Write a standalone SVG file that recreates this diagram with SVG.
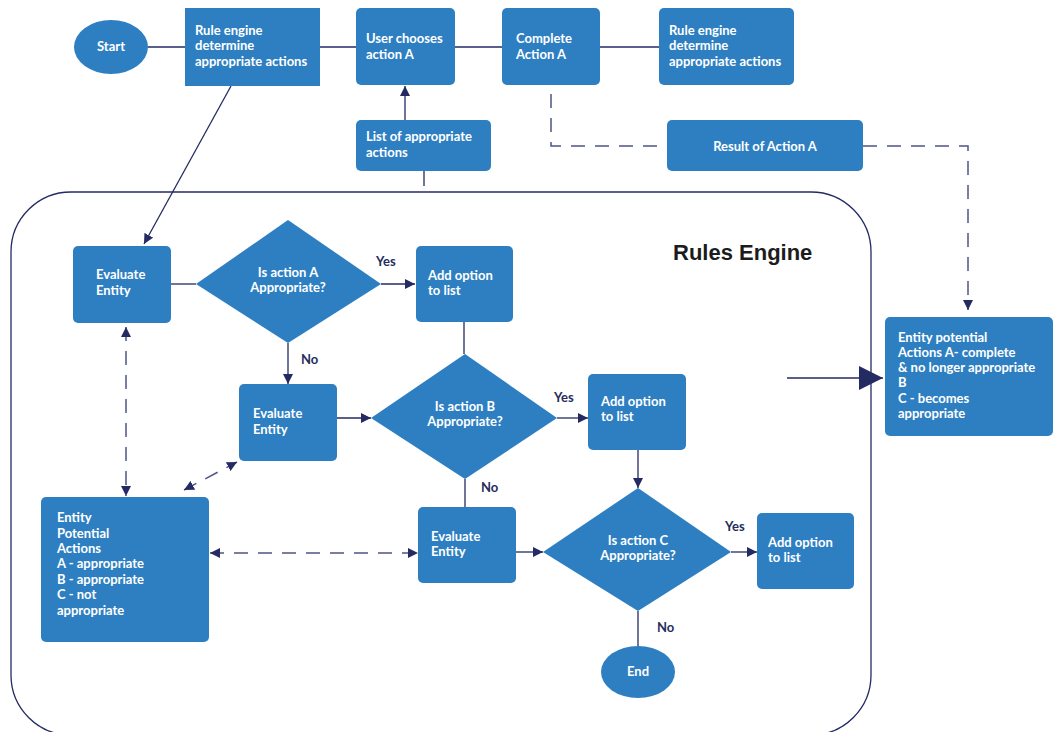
<svg xmlns="http://www.w3.org/2000/svg" width="1058" height="732" viewBox="0 0 1058 732">
<defs>
<style>
.box{fill:#2e7fc2;}
.t{font-family:"Lato","Noto Sans",sans-serif;font-weight:700;font-size:13px;fill:#ffffff;}
.tc{text-anchor:middle;}
.lbl{font-family:"Lato","Noto Sans",sans-serif;font-weight:700;font-size:13px;fill:#262d5e;}
.ln{stroke:#232b62;stroke-width:1.3;fill:none;}
.dash{stroke:#4c5584;stroke-width:1.5;fill:none;stroke-dasharray:14 10;}
.title{font-family:"Liberation Sans",Arial,sans-serif;font-weight:700;font-size:22px;fill:#1c1c1c;}
</style>
<marker id="ah" viewBox="0 0 10 10" markerWidth="10" markerHeight="10" refX="10" refY="5" orient="auto-start-reverse" markerUnits="userSpaceOnUse">
<path d="M0,0 L10,5 L0,10 z" fill="#232b62"/>
</marker>
<marker id="big" viewBox="0 0 10 10" markerWidth="24" markerHeight="24" refX="10" refY="5" orient="auto" markerUnits="userSpaceOnUse">
<path d="M0,0 L10,5 L0,10 z" fill="#232b62"/>
</marker>
</defs>
<rect width="1058" height="732" fill="#ffffff"/>

<g id="container">
<rect x="11" y="192" width="860" height="543" rx="60" ry="60" fill="none" stroke="#232b62" stroke-width="1.3"/>
<text class="title" x="673" y="260">Rules Engine</text>
</g>

<g id="connectors">
<line class="ln" x1="148" y1="47" x2="185" y2="47"/>
<line class="ln" x1="320" y1="47" x2="356" y2="47"/>
<line class="ln" x1="455" y1="47" x2="502" y2="47"/>
<line class="ln" x1="600" y1="47" x2="659" y2="47"/>
<line class="ln" x1="405" y1="120" x2="405" y2="86" marker-end="url(#ah)"/>
<line class="ln" x1="424" y1="171" x2="424" y2="186"/>
<line class="ln" x1="231" y1="86" x2="144" y2="244" marker-end="url(#ah)"/>
<polyline class="dash" points="551,94 551,146 667,146"/>
<polyline class="dash" points="863,146 968,146 968,310" marker-end="url(#ah)"/>
<line class="ln" x1="787" y1="378" x2="883" y2="378" marker-end="url(#big)"/>
<line class="ln" x1="171" y1="284" x2="196" y2="284"/>
<line class="ln" x1="381" y1="284" x2="415" y2="284" marker-end="url(#ah)"/>
<line class="ln" x1="288" y1="343" x2="288" y2="384" marker-end="url(#ah)"/>
<line class="ln" x1="464" y1="322" x2="464" y2="354"/>
<line class="ln" x1="337" y1="418" x2="371" y2="418" marker-end="url(#ah)"/>
<line class="ln" x1="557" y1="418" x2="588" y2="418" marker-end="url(#ah)"/>
<line class="ln" x1="638" y1="450" x2="638" y2="488" marker-end="url(#ah)"/>
<line class="ln" x1="465" y1="479" x2="465" y2="507"/>
<line class="ln" x1="516" y1="552" x2="543" y2="552" marker-end="url(#ah)"/>
<line class="ln" x1="731" y1="552" x2="757" y2="552" marker-end="url(#ah)"/>
<line class="ln" x1="638" y1="611" x2="638" y2="646"/>
<line class="dash" x1="126" y1="327" x2="126" y2="496" marker-start="url(#ah)" marker-end="url(#ah)"/>
<line class="dash" x1="184" y1="490" x2="237" y2="462" marker-start="url(#ah)" marker-end="url(#ah)" stroke-dasharray="14 12"/>
<line class="dash" x1="210" y1="553" x2="418" y2="553" marker-start="url(#ah)" marker-end="url(#ah)"/>
</g>

<g id="start">
<ellipse class="box" cx="111" cy="47" rx="37" ry="27"/>
<text class="t tc" x="111" y="51">Start</text>
</g>
<g id="rule-engine-1">
<rect class="box" x="185" y="8" width="135" height="78"/>
<text class="t" x="195" y="35">Rule engine</text>
<text class="t" x="195" y="50">determine</text>
<text class="t" x="195" y="66">appropriate actions</text>
</g>
<g id="user-chooses">
<rect class="box" x="356" y="8" width="99" height="77" rx="5"/>
<text class="t" x="366" y="43">User chooses</text>
<text class="t" x="366" y="59">action A</text>
</g>
<g id="complete-a">
<rect class="box" x="502" y="8" width="98" height="77" rx="5"/>
<text class="t" x="516" y="43">Complete</text>
<text class="t" x="516" y="59">Action A</text>
</g>
<g id="rule-engine-2">
<rect class="box" x="659" y="8" width="135" height="77" rx="5"/>
<text class="t" x="669" y="35">Rule engine</text>
<text class="t" x="669" y="50">determine</text>
<text class="t" x="669" y="66">appropriate actions</text>
</g>
<g id="list-actions">
<rect class="box" x="356" y="120" width="135" height="51" rx="5"/>
<text class="t" x="366" y="141">List of appropriate</text>
<text class="t" x="366" y="157">actions</text>
</g>
<g id="result-a">
<rect class="box" x="667" y="120" width="196" height="51" rx="5"/>
<text class="t tc" x="765" y="151">Result of Action A</text>
</g>
<g id="entity-right">
<rect class="box" x="885" y="317" width="168" height="119" rx="5"/>
<text class="t" x="898" y="342">Entity potential</text>
<text class="t" x="898" y="357">Actions A- complete</text>
<text class="t" x="898" y="372">&amp; no longer appropriate</text>
<text class="t" x="898" y="387">B</text>
<text class="t" x="898" y="403">C - becomes</text>
<text class="t" x="898" y="418">appropriate</text>
</g>
<g id="eval-1">
<rect class="box" x="73" y="246" width="98" height="77" rx="5"/>
<text class="t" x="96" y="279">Evaluate</text>
<text class="t" x="96" y="295">Entity</text>
</g>
<g id="decision-a">
<polygon class="box" points="288,220 381,284 288,343 196,284"/>
<text class="t tc" x="288" y="277">Is action A</text>
<text class="t tc" x="288" y="292">Appropriate?</text>
</g>
<g id="add-1">
<rect class="box" x="416" y="246" width="97" height="76" rx="5"/>
<text class="t" x="428" y="280">Add option</text>
<text class="t" x="428" y="295">to list</text>
</g>
<g id="eval-2">
<rect class="box" x="239" y="384" width="98" height="77" rx="5"/>
<text class="t" x="253" y="418">Evaluate</text>
<text class="t" x="253" y="434">Entity</text>
</g>
<g id="decision-b">
<polygon class="box" points="465,354 557,418 465,479 371,418"/>
<text class="t tc" x="465" y="411">Is action B</text>
<text class="t tc" x="465" y="426">Appropriate?</text>
</g>
<g id="add-2">
<rect class="box" x="588" y="374" width="98" height="76" rx="5"/>
<text class="t" x="601" y="406">Add option</text>
<text class="t" x="601" y="421">to list</text>
</g>
<g id="entity-left">
<rect class="box" x="41" y="497" width="168" height="145" rx="5"/>
<text class="t" x="57" y="522">Entity</text>
<text class="t" x="57" y="538">Potential</text>
<text class="t" x="57" y="553">Actions</text>
<text class="t" x="57" y="568">A - appropriate</text>
<text class="t" x="57" y="584">B - appropriate</text>
<text class="t" x="57" y="599">C - not</text>
<text class="t" x="57" y="615">appropriate</text>
</g>
<g id="eval-3">
<rect class="box" x="418" y="507" width="98" height="76" rx="5"/>
<text class="t" x="431" y="541">Evaluate</text>
<text class="t" x="431" y="556">Entity</text>
</g>
<g id="decision-c">
<polygon class="box" points="638,488 731,552 638,611 543,552"/>
<text class="t tc" x="638" y="545">Is action C</text>
<text class="t tc" x="638" y="560">Appropriate?</text>
</g>
<g id="add-3">
<rect class="box" x="757" y="513" width="97" height="76" rx="5"/>
<text class="t" x="768" y="547">Add option</text>
<text class="t" x="768" y="562">to list</text>
</g>
<g id="end">
<ellipse class="box" cx="638" cy="672" rx="37" ry="26"/>
<text class="t tc" x="638" y="676">End</text>
</g>
<g id="labels">
<text class="lbl" x="376" y="266">Yes</text>
<text class="lbl" x="301" y="364">No</text>
<text class="lbl" x="554" y="402">Yes</text>
<text class="lbl" x="481" y="492">No</text>
<text class="lbl" x="725" y="531">Yes</text>
<text class="lbl" x="657" y="632">No</text>
</g>
</svg>
